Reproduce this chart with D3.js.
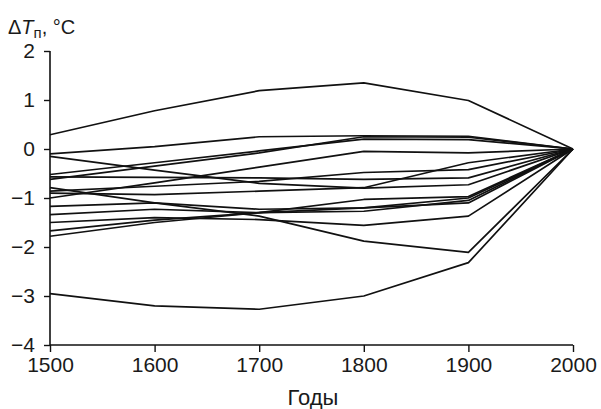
<!DOCTYPE html>
<html>
<head>
<meta charset="utf-8">
<script src="https://cdn.jsdelivr.net/npm/d3@7"></script>
<style>
  body { margin: 0; background: #fff; }
  svg text { font-family: "Liberation Sans", Arial, sans-serif; fill: #1a1a1a; }
</style>
</head>
<body>
<svg id="chart" width="601" height="409"></svg>
<script>
// years on the x axis
var years = [1500, 1600, 1700, 1800, 1900, 2000];

// temperature anomaly series, one per reconstruction
var s1  = [0.29, 0.78, 1.19, 1.35, 0.99, 0];
var s2  = [-0.10, 0.05, 0.25, 0.27, 0.26, 0];
var s3  = [-0.15, -0.43, -0.70, -0.80, -0.73, 0];
var s4  = [-0.52, -0.28, -0.04, 0.20, 0.19, 0];
var s5  = [-0.57, -0.58, -0.59, -0.62, -0.59, 0];
var s6  = [-0.62, -0.35, -0.08, 0.25, 0.24, 0];
var s7  = [-0.79, -1.10, -1.37, -1.88, -2.11, 0];
var s8  = [-0.86, -0.76, -0.66, -0.48, -0.42, 0];
var s9  = [-0.90, -0.93, -0.86, -0.79, -0.28, 0];
var s10 = [-1.00, -0.69, -0.37, -0.05, -0.08, 0];
var s11 = [-1.17, -1.10, -1.23, -1.20, -1.00, 0];
var s12 = [-1.34, -1.23, -1.30, -1.27, -1.05, 0];
var s13 = [-1.50, -1.40, -1.44, -1.56, -1.37, 0];
var s14 = [-1.67, -1.45, -1.30, -1.20, -1.10, 0];
var s15 = [-1.78, -1.50, -1.30, -1.03, -0.97, 0];
var s16 = [-2.95, -3.20, -3.27, -3.00, -2.32, 0];
var series = [s1, s2, s3, s4, s5, s6, s7, s8, s9, s10, s11, s12, s13, s14, s15, s16];

var xTicks = [1500, 1600, 1700, 1800, 1900, 2000];
var yTicks = [-4, -3, -2, -1, 0, 1, 2];

var svg = d3.select("#chart");

var x = d3.scaleLinear().domain([1500, 2000]).range([50, 573]);
var y = d3.scaleLinear().domain([-4, 2]).range([345, 51]);

var line = d3.line()
    .x(function(d, i) { return x(years[i]); })
    .y(function(d) { return y(d); });

svg.append("g")
  .selectAll("path")
  .data(series)
  .enter().append("path")
  .attr("d", line)
  .attr("fill", "none")
  .attr("stroke", "#111")
  .attr("stroke-width", 1.7)
  .attr("stroke-linejoin", "round");

// x axis
var xAxis = svg.append("g")
  .attr("transform", "translate(0," + y(-4) + ")")
  .call(d3.axisBottom(x).tickValues(xTicks).tickFormat(d3.format("d")).tickSize(7).tickPadding(5));

// y axis
var yAxis = svg.append("g")
  .attr("transform", "translate(" + x(1500) + ",0)")
  .call(d3.axisLeft(y).tickValues(yTicks).tickFormat(function(d) { return d < 0 ? "\u2212" + Math.abs(d) : d; }).tickSize(6).tickPadding(9));

svg.selectAll(".domain").attr("stroke", "#111").attr("stroke-width", 1.6);
svg.selectAll(".tick line").attr("stroke", "#111").attr("stroke-width", 1.4);
svg.selectAll(".tick text").attr("font-size", 21).attr("fill", "#1a1a1a")
  .attr("font-family", "'Liberation Sans', Arial, sans-serif");
xAxis.selectAll(".domain").attr("d", "M" + x(1500) + ",0H" + x(2000));
yAxis.selectAll(".domain").attr("d", "M0," + y(2) + "V" + y(-4));

// axis titles
var yt = svg.append("text")
  .attr("x", 8)
  .attr("y", 34)
  .attr("font-size", 20);
yt.append("tspan").text("\u0394");
yt.append("tspan").attr("font-style", "italic").text("T");
yt.append("tspan").attr("font-size", 15).attr("dy", 4).text("\u043f");
yt.append("tspan").attr("dy", -4).text(", \u00b0C");

svg.append("text")
  .attr("x", 313)
  .attr("y", 405)
  .attr("text-anchor", "middle")
  .attr("font-size", 22)
  .text("\u0413\u043e\u0434\u044b");
</script>
</body>
</html>
